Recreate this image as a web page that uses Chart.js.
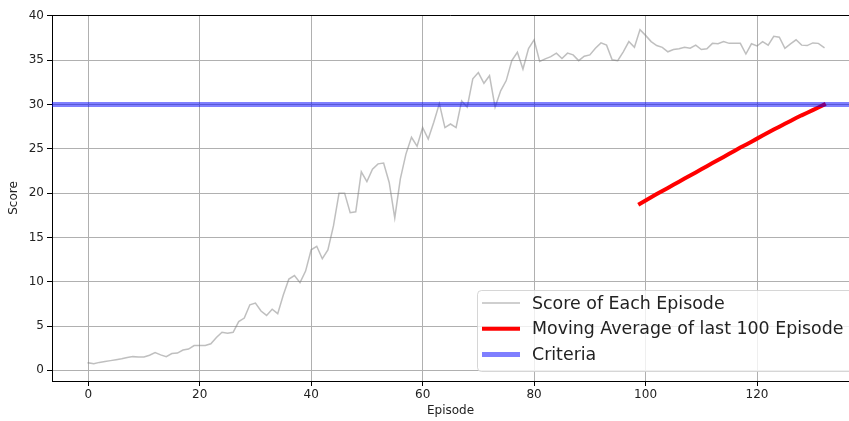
<!DOCTYPE html>
<html lang="en">
<head>
<meta charset="UTF-8">
<title>Score per Episode</title>
<style>
  body { margin: 0; background: #fff; }
  #chart { display: block; }
</style>
</head>
<body>
<canvas id="chart" width="849" height="421"></canvas>
<script src="https://cdn.jsdelivr.net/npm/chart.js@4.4.1/dist/chart.umd.min.js"></script>
<script>
// Score of each episode (episodes 0..132)
var scores = [
  0.85, 0.75, 0.9, 1.0, 1.1, 1.2, 1.3, 1.45, 1.55, 1.5,
  1.5, 1.7, 2.0, 1.75, 1.55, 1.9, 1.95, 2.3, 2.4, 2.8,
  2.8, 2.8, 3.0, 3.7, 4.3, 4.2, 4.3, 5.5, 5.9, 7.4,
  7.6, 6.7, 6.2, 6.9, 6.4, 8.5, 10.3, 10.7, 9.9, 11.2,
  13.6, 14.0, 12.6, 13.6, 16.3, 20.0, 20.0, 17.8, 17.9, 22.4,
  21.3, 22.7, 23.3, 23.4, 21.2, 17.2, 21.6, 24.4, 26.3, 25.3,
  27.4, 26.1, 28.0, 30.1, 27.4, 27.8, 27.4, 30.4, 29.7, 32.9,
  33.6, 32.4, 33.25, 29.7, 31.55, 32.7, 34.95, 35.9, 34.0, 36.3,
  37.3, 34.85, 35.15, 35.4, 35.8, 35.2, 35.8, 35.6, 34.95, 35.45,
  35.6, 36.35, 36.95, 36.7, 35.05, 34.95, 35.95, 37.1, 36.45, 38.45,
  37.8, 37.1, 36.65, 36.45, 35.95, 36.2, 36.3, 36.45, 36.35, 36.7,
  36.2, 36.3, 36.9, 36.85, 37.1, 36.9, 36.9, 36.9, 35.7, 36.85,
  36.6, 37.1, 36.7, 37.7, 37.6, 36.35, 36.85, 37.3, 36.7, 36.65,
  36.95, 36.9, 36.45
];

// Moving average of last 100 episodes, first value at episode 99
var maStart = 99;
var movingAvg = [
  18.80, 19.17, 19.53, 19.89, 20.24, 20.59, 20.94, 21.29, 21.64, 21.99,
  22.34, 22.69, 23.04, 23.39, 23.74, 24.09, 24.44, 24.79, 25.14, 25.47,
  25.81, 26.15, 26.49, 26.83, 27.17, 27.50, 27.82, 28.15, 28.47, 28.78,
  29.07, 29.36, 29.66, 29.97
];

var criteria = 30;

var legendLabels = ['Score of Each Episode', 'Moving Average of last 100 Episode', 'Criteria'];
var xTicks = [0, 20, 40, 60, 80, 100, 120];
var yTicks = [0, 5, 10, 15, 20, 25, 30, 35, 40];
var xMin = -6.5, xMax = 136.5;
var yMin = -1.2, yMax = 40.1;

var colors = ['rgba(128,128,128,0.5)', '#ff0000', 'rgba(0,0,255,0.5)'];
var widths = [1.5, 4, 5];

// build point lists for the linear x axis
var scorePoints = scores.map(function(v, i) { return {x: i, y: v}; });
var maPoints = movingAvg.map(function(v, i) { return {x: maStart + i, y: v}; });
var critPoints = [{x: xMin, y: criteria}, {x: xMax, y: criteria}];

var font = "'DejaVu Sans', sans-serif";

// top spine + matplotlib style legend inside the plot
var extras = {
  id: 'extras',
  afterDraw: function(chart) {
    var ctx = chart.ctx, a = chart.chartArea;
    ctx.save();
    ctx.strokeStyle = '#000';
    ctx.lineWidth = 1;
    ctx.beginPath();
    ctx.moveTo(a.left, Math.round(a.top) + 0.5);
    ctx.lineTo(a.right, Math.round(a.top) + 0.5);
    ctx.stroke();

    // legend box
    var bx = 477.5, by = 290.5, bw = 400, bh = 81, r = 4;
    ctx.globalAlpha = 0.8;
    ctx.fillStyle = '#fff';
    ctx.strokeStyle = '#cccccc';
    ctx.beginPath();
    ctx.moveTo(bx + r, by);
    ctx.lineTo(bx + bw - r, by);
    ctx.quadraticCurveTo(bx + bw, by, bx + bw, by + r);
    ctx.lineTo(bx + bw, by + bh - r);
    ctx.quadraticCurveTo(bx + bw, by + bh, bx + bw - r, by + bh);
    ctx.lineTo(bx + r, by + bh);
    ctx.quadraticCurveTo(bx, by + bh, bx, by + bh - r);
    ctx.lineTo(bx, by + r);
    ctx.quadraticCurveTo(bx, by, bx + r, by);
    ctx.closePath();
    ctx.fill();
    ctx.stroke();
    ctx.globalAlpha = 1;

    ctx.font = '17.4px ' + font;
    ctx.textBaseline = 'middle';
    ctx.fillStyle = '#222';
    for (var i = 0; i < legendLabels.length; i++) {
      var ly = 303 + i * 25.7;
      ctx.strokeStyle = colors[i];
      ctx.lineWidth = widths[i];
      ctx.beginPath();
      ctx.moveTo(482, ly);
      ctx.lineTo(520, ly);
      ctx.stroke();
      ctx.fillText(legendLabels[i], 532, ly + 1);
    }
    ctx.restore();
  }
};

var ctx = document.getElementById('chart');
var chart = new Chart(ctx, {
  type: 'line',
  data: {
    datasets: [
      { label: legendLabels[0], data: scorePoints, borderColor: colors[0], borderWidth: widths[0], order: 3 },
      { label: legendLabels[1], data: maPoints, borderColor: colors[1], borderWidth: widths[1], order: 2 },
      { label: legendLabels[2], data: critPoints, borderColor: colors[2], borderWidth: widths[2], order: 1 }
    ]
  },
  options: {
    responsive: false,
    animation: false,
    parsing: false,
    layout: { padding: { top: 15, right: 0, left: 0, bottom: 0 } },
    elements: {
      point: { radius: 0, hoverRadius: 0 },
      line: { tension: 0, fill: false, borderCapStyle: 'square' }
    },
    plugins: {
      legend: { display: false },
      tooltip: { enabled: false }
    },
    scales: {
      x: {
        type: 'linear',
        min: xMin,
        max: xMax,
        afterBuildTicks: function(scale) { scale.ticks = xTicks.map(function(v) { return {value: v}; }); },
        afterFit: function(scale) { scale.height = 40; },
        grid: { color: '#b0b0b0', lineWidth: 1, tickColor: '#000', tickLength: 5 },
        border: { color: '#000', width: 1 },
        ticks: { color: '#222', font: { family: font, size: 12 }, padding: 2, maxRotation: 0 },
        title: { display: true, text: 'Episode', color: '#222', font: { family: font, size: 12 }, padding: { top: 0, bottom: 3 } }
      },
      y: {
        type: 'linear',
        min: yMin,
        max: yMax,
        afterBuildTicks: function(scale) { scale.ticks = yTicks.map(function(v) { return {value: v}; }); },
        afterFit: function(scale) { scale.width = 52; },
        grid: { color: '#b0b0b0', lineWidth: 1, tickColor: '#000', tickLength: 5 },
        border: { color: '#000', width: 1 },
        ticks: { color: '#222', font: { family: font, size: 12 }, padding: 3 },
        title: { display: true, text: 'Score', color: '#222', font: { family: font, size: 12 }, padding: { top: 7, bottom: 0 } }
      }
    }
  },
  plugins: [extras]
});
</script>
</body>
</html>
